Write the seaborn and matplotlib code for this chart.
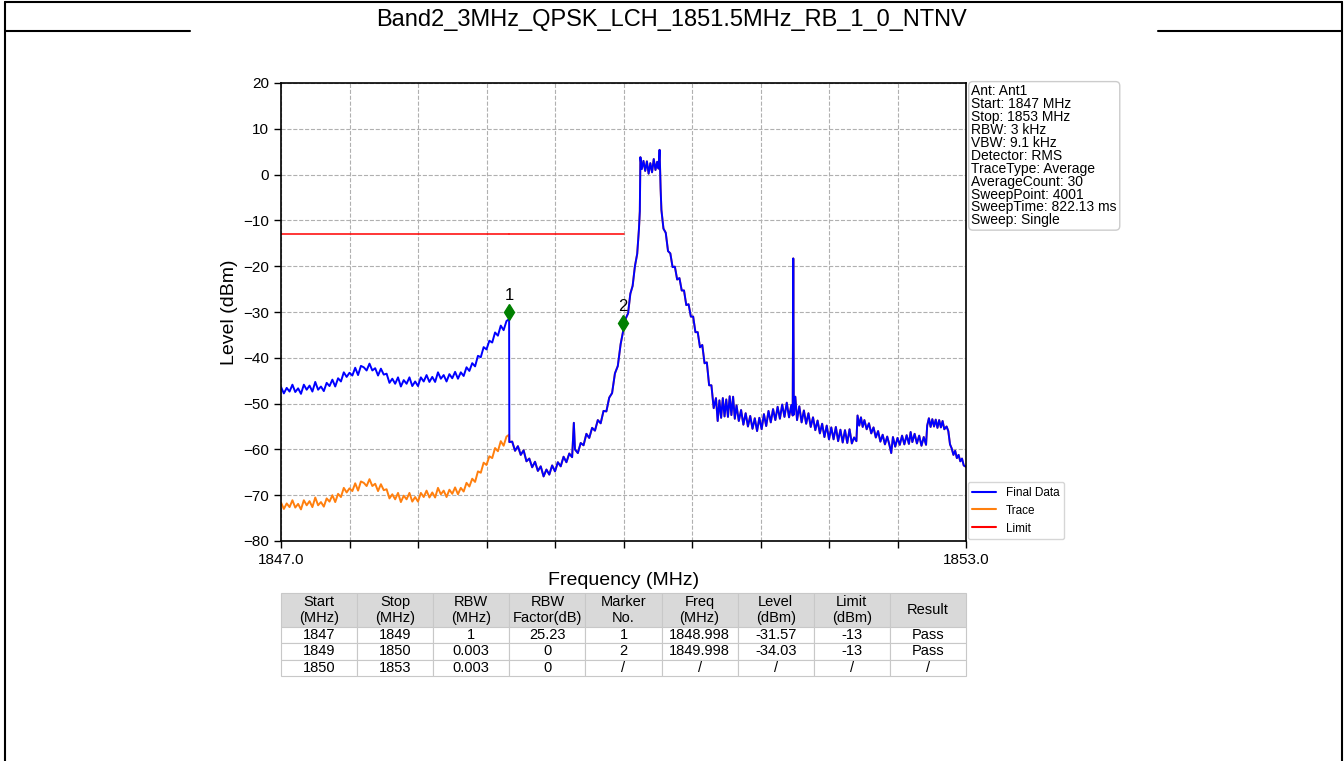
import numpy as np
import pandas as pd
import matplotlib
matplotlib.use("Agg")
import matplotlib.pyplot as plt
import matplotlib.transforms as mtransforms
from matplotlib.lines import Line2D
import seaborn as sns

title = "Band2_3MHz_QPSK_LCH_1851.5MHz_RB_1_0_NTNV"

# Raw analyzer trace (dBm), 1847-1849 MHz
freq_lo = [
    1847.000, 1847.025, 1847.050, 1847.075, 1847.100, 1847.125, 1847.150, 1847.175, 1847.200, 1847.225,
    1847.250, 1847.275, 1847.300, 1847.325, 1847.350, 1847.375, 1847.400, 1847.425, 1847.450, 1847.475,
    1847.500, 1847.525, 1847.550, 1847.575, 1847.600, 1847.625, 1847.650, 1847.675, 1847.700, 1847.725,
    1847.750, 1847.775, 1847.800, 1847.825, 1847.850, 1847.875, 1847.900, 1847.925, 1847.950, 1847.975,
    1848.000, 1848.025, 1848.050, 1848.075, 1848.100, 1848.125, 1848.150, 1848.175, 1848.200, 1848.225,
    1848.250, 1848.275, 1848.300, 1848.325, 1848.350, 1848.375, 1848.400, 1848.425, 1848.450, 1848.475,
    1848.500, 1848.525, 1848.550, 1848.575, 1848.600, 1848.625, 1848.650, 1848.675, 1848.700, 1848.725,
    1848.750, 1848.775, 1848.800, 1848.825, 1848.850, 1848.875, 1848.900, 1848.925, 1848.950, 1848.975,
    1848.998,
]
trace_lo = [
    -71.6, -73.0, -71.8, -72.6, -71.1, -72.7, -71.9, -73.1, -71.1, -72.2,
    -71.3, -72.6, -70.5, -72.2, -71.5, -72.5, -70.7, -71.4, -70.0, -71.5,
    -69.7, -70.4, -68.4, -69.4, -68.5, -69.1, -67.4, -69.0, -67.0, -67.3,
    -68.0, -66.5, -68.0, -67.5, -69.1, -67.6, -68.9, -68.7, -70.7, -69.8,
    -70.9, -69.5, -71.5, -70.1, -70.9, -69.5, -71.4, -70.4, -71.4, -69.5,
    -70.4, -69.0, -70.5, -69.4, -70.5, -68.4, -69.8, -69.0, -70.4, -68.8,
    -69.7, -68.3, -69.8, -68.4, -69.2, -67.3, -68.1, -66.4, -67.1, -64.8,
    -65.1, -62.9, -63.4, -61.5, -61.9, -59.7, -60.4, -58.2, -59.2, -57.2,
    -56.8,
]

# 1849-1850 MHz
freq_mid = [
    1849.000, 1849.025, 1849.050, 1849.075, 1849.100, 1849.125, 1849.150, 1849.175, 1849.200, 1849.225,
    1849.250, 1849.275, 1849.300, 1849.325, 1849.350, 1849.375, 1849.400, 1849.425, 1849.450, 1849.475,
    1849.500, 1849.525, 1849.550, 1849.565, 1849.575, 1849.600, 1849.625, 1849.650, 1849.675, 1849.700,
    1849.725, 1849.750, 1849.775, 1849.800, 1849.825, 1849.850, 1849.875, 1849.900, 1849.925, 1849.950,
    1849.975, 1849.998,
]
trace_mid = [
    -58.4, -58.3, -60.3, -59.3, -61.2, -60.2, -62.6, -62.0, -63.9, -62.7,
    -64.7, -63.7, -65.9, -64.4, -65.5, -63.5, -64.8, -62.8, -63.7, -61.6,
    -62.8, -60.9, -61.7, -54.2, -60.0, -60.8, -58.6, -59.1, -56.6, -57.5,
    -55.3, -55.9, -53.6, -54.3, -51.6, -51.7, -48.7, -47.7, -43.4, -41.8,
    -37.0, -34.03,
]

# 1850-1853 MHz
freq_hi = [
    1850.020, 1850.040, 1850.060, 1850.080, 1850.100, 1850.120, 1850.135, 1850.143, 1850.148, 1850.160,
    1850.175, 1850.190, 1850.205, 1850.220, 1850.235, 1850.250, 1850.265, 1850.280, 1850.295, 1850.307,
    1850.316, 1850.325, 1850.332, 1850.350, 1850.370, 1850.390, 1850.410, 1850.430, 1850.450, 1850.470,
    1850.490, 1850.510, 1850.530, 1850.550, 1850.570, 1850.590, 1850.610, 1850.630, 1850.650, 1850.670,
    1850.690, 1850.710, 1850.730, 1850.750, 1850.770, 1850.790, 1850.810, 1850.825, 1850.840, 1850.855,
    1850.870, 1850.885, 1850.900, 1850.915, 1850.930, 1850.945, 1850.960, 1850.975, 1850.990, 1851.010,
    1851.030, 1851.050, 1851.070, 1851.090, 1851.110, 1851.130, 1851.150, 1851.170, 1851.190, 1851.210,
    1851.230, 1851.250, 1851.270, 1851.290, 1851.310, 1851.330, 1851.350, 1851.370, 1851.390, 1851.410,
    1851.430, 1851.450, 1851.470, 1851.482, 1851.487, 1851.492, 1851.505, 1851.520, 1851.540, 1851.560,
    1851.580, 1851.600, 1851.620, 1851.640, 1851.660, 1851.680, 1851.700, 1851.720, 1851.740, 1851.760,
    1851.780, 1851.800, 1851.820, 1851.840, 1851.860, 1851.880, 1851.900, 1851.920, 1851.940, 1851.960,
    1851.980, 1852.000, 1852.020, 1852.040, 1852.050, 1852.065, 1852.080, 1852.095, 1852.110, 1852.130,
    1852.150, 1852.170, 1852.190, 1852.210, 1852.230, 1852.250, 1852.270, 1852.290, 1852.310, 1852.330,
    1852.345, 1852.360, 1852.380, 1852.400, 1852.420, 1852.440, 1852.460, 1852.480, 1852.500, 1852.515,
    1852.530, 1852.550, 1852.570, 1852.590, 1852.610, 1852.630, 1852.650, 1852.660, 1852.675, 1852.690,
    1852.705, 1852.720, 1852.735, 1852.750, 1852.765, 1852.780, 1852.795, 1852.810, 1852.830, 1852.845,
    1852.860, 1852.875, 1852.890, 1852.905, 1852.920, 1852.935, 1852.950, 1852.965, 1852.980, 1853.000,
]
trace_hi = [
    -31.4, -30.3, -26.0, -24.3, -20.0, -17.3, -12.0, -8.0, 3.8, 1.2,
    3.0, 0.8, 2.9, 0.2, 2.5, 0.5, 3.4, 1.0, 2.8, 1.3,
    5.4, -3.0, -7.7, -11.8, -12.7, -16.7, -17.2, -20.2, -20.1, -22.9,
    -22.6, -25.3, -25.3, -28.5, -28.3, -31.0, -31.0, -34.4, -34.4, -37.7,
    -37.2, -41.2, -41.0, -46.0, -46.0, -51.0, -48.8, -53.8, -49.3, -53.1,
    -48.8, -52.8, -49.1, -52.9, -48.4, -52.5, -48.5, -53.3, -50.4, -53.8,
    -51.4, -54.6, -52.1, -55.0, -52.7, -55.5, -53.2, -56.0, -53.1, -55.6,
    -52.3, -54.9, -51.6, -54.1, -51.2, -53.6, -50.7, -53.3, -50.2, -52.9,
    -49.8, -53.0, -50.3, -52.6, -18.3, -52.4, -48.5, -53.6, -50.6, -54.1,
    -51.5, -54.4, -52.1, -55.1, -53.0, -55.8, -53.7, -56.5, -54.4, -57.3,
    -54.8, -57.8, -55.2, -57.8, -55.1, -58.2, -55.7, -58.5, -55.8, -58.6,
    -55.6, -58.7, -57.4, -58.2, -52.6, -54.8, -53.0, -55.1, -53.6, -55.6,
    -54.3, -56.5, -55.2, -57.4, -56.0, -58.3, -56.8, -58.9, -57.2, -59.1,
    -60.8, -57.3, -59.4, -57.5, -59.0, -57.0, -58.9, -56.9, -58.8, -56.2,
    -58.4, -56.6, -58.7, -57.0, -59.2, -57.3, -59.0, -54.8, -53.2, -55.1,
    -53.4, -55.0, -53.5, -55.3, -53.6, -55.2, -53.8, -55.6, -55.0, -56.0,
    -58.9, -59.8, -61.2, -60.3, -61.9, -61.2, -62.6, -62.0, -63.5, -63.8,
]

# Measurement segments
seg_start = [1847, 1849, 1850]
seg_stop = [1849, 1850, 1853]
seg_rbw = ["1", "0.003", "0.003"]
seg_factor = [25.23, 0.0, 0.0]
marker_no = ["1", "2", "/"]
marker_freq = ["1848.998", "1849.998", "/"]
marker_level = ["-31.57", "-34.03", "/"]
seg_limit = ["-13", "-13", "/"]
seg_result = ["Pass", "Pass", "/"]

table_header = ["Start\n(MHz)", "Stop\n(MHz)", "RBW\n(MHz)", "RBW\nFactor(dB)", "Marker\nNo.",
                "Freq\n(MHz)", "Level\n(dBm)", "Limit\n(dBm)", "Result"]

info_lines = ["Ant: Ant1", "Start: 1847 MHz", "Stop: 1853 MHz", "RBW: 3 kHz", "VBW: 9.1 kHz",
              "Detector: RMS", "TraceType: Average", "AverageCount: 30", "SweepPoint: 4001",
              "SweepTime: 822.13 ms", "Sweep: Single"]

# ---------------------------------------------------------------------------
freq = np.array(freq_lo + freq_mid + freq_hi)
trace = np.array(trace_lo + trace_mid + trace_hi)

# Final data = raw trace + RBW correction factor of the segment it falls in
factor = np.zeros_like(trace)
for s0, s1, fac in zip(seg_start, seg_stop, seg_factor):
    factor[(freq >= s0) & (freq < s1)] = fac
final = trace + factor

df = pd.concat([
    pd.DataFrame({"freq": freq, "level": trace, "series": "Trace"}),
    pd.DataFrame({"freq": freq, "level": final, "series": "Final Data"}),
], ignore_index=True)

sns.set_theme(style="ticks")
plt.rcParams["font.family"] = ["Liberation Sans", "DejaVu Sans"]
plt.rcParams.update({"text.color": "black", "axes.labelcolor": "black",
                     "xtick.color": "black", "ytick.color": "black"})

W, H = 1344, 761
fig = plt.figure(figsize=(W / 100, H / 100), dpi=100)

ax = fig.add_axes([281 / W, 1 - 541 / H, 685 / W, 458 / H])

palette = {"Trace": "#ff7f0e", "Final Data": "#0000ff"}
sns.lineplot(data=df, x="freq", y="level", hue="series", hue_order=["Trace", "Final Data"],
             palette=palette, estimator=None, sort=False, legend=False, linewidth=1.4, ax=ax)

# Limit line over the segments that carry a limit
for s0, s1, lim in zip(seg_start, seg_stop, seg_limit):
    if lim != "/":
        ax.plot([s0, s1], [float(lim), float(lim)], color="#ff0000", lw=1.1)

# Peak markers
mk_offset = mtransforms.offset_copy(ax.transData, fig=fig, x=0, y=5.5, units="points")
lbl_offset = mtransforms.offset_copy(ax.transData, fig=fig, x=0, y=12, units="points")
for no, mf, ml in zip(marker_no, marker_freq, marker_level):
    if no == "/":
        continue
    ax.plot([float(mf)], [float(ml)], marker="d", ms=8, color="#008000", ls="none",
            transform=mk_offset, zorder=5)
    ax.text(float(mf), float(ml), no, transform=lbl_offset, ha="center", va="bottom",
            fontsize=12, color="black", zorder=6)

ax.set_xlim(1847, 1853)
ax.set_ylim(-80, 20)
xt = np.linspace(1847, 1853, 11)
ax.set_xticks(xt)
ax.set_xticklabels(["1847.0"] + [""] * 9 + ["1853.0"])
ax.set_yticks(np.arange(-80, 21, 10))
ax.tick_params(axis="both", labelsize=11, length=5, width=1, color="black", direction="out")
ax.grid(True, color="#b0b0b0", linestyle="--", linewidth=0.8)
for sp in ax.spines.values():
    sp.set_color("black")
    sp.set_linewidth(1.2)
ax.set_xlabel("Frequency (MHz)", fontsize=14, labelpad=4)
ax.set_ylabel("Level (dBm)", fontsize=14, labelpad=4)

# Instrument settings box
ax.text(1.008, 0.997, "\n".join(info_lines), transform=ax.transAxes, ha="left", va="top",
        fontsize=10, linespacing=0.9,
        bbox=dict(boxstyle="round,pad=0.2,rounding_size=0.3", fc="white", ec="#cccccc", lw=1))

# Trace legend
handles = [Line2D([], [], color="#0000ff", lw=1.5), Line2D([], [], color="#ff7f0e", lw=1.5),
           Line2D([], [], color="#ff0000", lw=1.5)]
ax.legend(handles, ["Final Data", "Trace", "Limit"], loc="lower left", bbox_to_anchor=(1.0, 0.0),
          borderaxespad=0.15, fontsize=8.5, frameon=True, edgecolor="#cccccc", fancybox=True)

# Result table
tax = fig.add_axes([281 / W, 1 - 676 / H, 685 / W, 83 / H])
tax.axis("off")
rows = []
for i in range(len(seg_start)):
    rows.append([str(seg_start[i]), str(seg_stop[i]), seg_rbw[i],
                 ("%g" % seg_factor[i]), marker_no[i], marker_freq[i], marker_level[i],
                 seg_limit[i], seg_result[i]])
tbl = tax.table(cellText=rows, colLabels=table_header, cellLoc="center", bbox=[0, 0, 1, 1])
tbl.auto_set_font_size(False)
tbl.set_fontsize(10.5)
for (r, c), cell in tbl.get_celld().items():
    cell.set_edgecolor("#c8c8c8")
    cell.set_linewidth(0.8)
    if r == 0:
        cell.set_facecolor("#d9d9d9")
        cell.set_height(2.05)
    else:
        cell.set_height(1.0)

fig.suptitle(title, fontsize=17, y=1 - 20 / H, va="center")

# Page frame
frame = dict(color="black", lw=1.5, transform=fig.transFigure)
fig.add_artist(Line2D([5 / W, 5 / W], [0, 1 - 2 / H], **frame))
fig.add_artist(Line2D([1342 / W, 1342 / W], [0, 1 - 2 / H], **frame))
fig.add_artist(Line2D([5 / W, 1342 / W], [1 - 2 / H, 1 - 2 / H], **frame))
fig.add_artist(Line2D([5 / W, 190 / W], [1 - 31 / H, 1 - 31 / H], **frame))
fig.add_artist(Line2D([1158 / W, 1342 / W], [1 - 31 / H, 1 - 31 / H], **frame))

fig.savefig("out.png", dpi=100, facecolor="white")
